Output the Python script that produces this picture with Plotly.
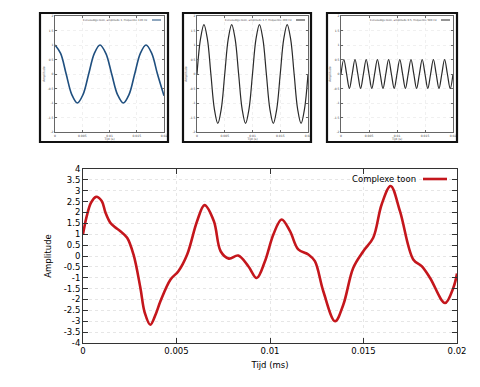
import plotly.graph_objects as go

# ---------------- data ----------------
# main complex tone
t_main = [0, 0.0002, 0.00043, 0.0007, 0.001, 0.0012, 0.00146, 0.0017, 0.002, 0.00236,
          0.0027, 0.00307, 0.0033, 0.0036, 0.0039, 0.00414, 0.00468, 0.0051, 0.00557,
          0.0061, 0.0065, 0.007, 0.00736, 0.0078, 0.0083, 0.00884, 0.00929, 0.00973,
          0.01018, 0.01062, 0.01107, 0.01151, 0.01205, 0.0124, 0.01285, 0.01348,
          0.01392, 0.01445, 0.01499, 0.01552, 0.01597, 0.01645, 0.01695, 0.01766,
          0.01811, 0.01856, 0.01936, 0.0198, 0.02]
amp_main = [1.0, 1.83, 2.45, 2.72, 2.53, 2.0, 1.53, 1.33, 1.14, 0.84,
            0.07, -1.47, -2.6, -3.16, -2.65, -2.08, -1.08, -0.7, 0.07,
            1.6, 2.34, 1.6, 0.22, -0.12, 0.02, -0.47, -1.01, -0.24,
            0.99, 1.68, 1.14, 0.3, 0.07, -0.24, -1.62, -3.0,
            -2.24, -0.55, 0.22, 0.84, 2.37, 3.22, 2.06, -0.16,
            -0.47, -1.01, -2.16, -1.47, -0.81]

# small plot 1 (amplitude 1)
t_s1 = [0, 0.00103, 0.00205, 0.00308, 0.0041, 0.00514, 0.00618, 0.00722, 0.00826,
        0.00933, 0.0104, 0.01147, 0.01254, 0.01358, 0.01462, 0.01566, 0.0167,
        0.01775, 0.0188, 0.02]
amp_s1 = [1, 0.71, 0, -0.71, -1, -0.71, 0, 0.71, 1,
          0.71, 0, -0.71, -1, -0.71, 0, 0.71, 1,
          0.71, 0, -0.75]

# small plot 2 (amplitude 1.7)
t_s2 = [0, 0.000625, 0.00125, 0.001875, 0.0025, 0.003125, 0.00375, 0.004375,
        0.005, 0.005625, 0.00625, 0.006875, 0.0075, 0.008125, 0.00875, 0.009375,
        0.01, 0.010625, 0.01125, 0.011875, 0.0125, 0.013125, 0.01375, 0.014375,
        0.015, 0.015625, 0.01625, 0.016875, 0.0175, 0.018125, 0.01875, 0.019375, 0.02]
amp_s2 = [0, 1.2, 1.7, 1.2, 0, -1.2, -1.7, -1.2,
          0, 1.2, 1.7, 1.2, 0, -1.2, -1.7, -1.2,
          0, 1.2, 1.7, 1.2, 0, -1.2, -1.7, -1.2,
          0, 1.2, 1.7, 1.2, 0, -1.2, -1.7, -1.2, 0]

# small plot 3 (amplitude 0.5)
t_s3 = [0, 0.0005, 0.001, 0.0015, 0.002, 0.0025, 0.003, 0.0035, 0.004, 0.0045,
        0.005, 0.0055, 0.006, 0.0065, 0.007, 0.0075, 0.008, 0.0085, 0.009, 0.0095,
        0.01, 0.0105, 0.011, 0.0115, 0.012, 0.0125, 0.013, 0.0135, 0.014, 0.0145,
        0.015, 0.0155, 0.016, 0.0165, 0.017, 0.0175, 0.018, 0.0185, 0.019, 0.0195, 0.02]
amp_s3 = [0, 0.5, 0, -0.5, 0, 0.5, 0, -0.5, 0, 0.5,
          0, -0.5, 0, 0.5, 0, -0.5, 0, 0.5, 0, -0.5,
          0, 0.5, 0, -0.5, 0, 0.5, 0, -0.5, 0, 0.5,
          0, -0.5, 0, 0.5, 0, -0.5, 0, 0.5, 0, -0.5, 0]

main_yticks = [4, 3.5, 3, 2.5, 2, 1.5, 1, 0.5, 0, -0.5, -1, -1.5, -2, -2.5, -3, -3.5, -4]
main_yticktext = ["4", "3.5", "3", "2.5", "2", "1.5", "1", "0.5", "0", "-0.5", "-1",
                  "-1.5", "-2", "-2.5", "-3", "-3.5", "-4"]
main_xticks = [0, 0.005, 0.01, 0.015, 0.02]
main_xticktext = ["0", "0.005", "0.01", "0.015", "0.02"]
small_yticks = [2, 1.5, 1, 0.5, 0, -0.5, -1, -1.5, -2]
small_yticktext = ["2", "1.5", "1", "0.5", "0", "-0.5", "-1", "-1.5", "-2"]
small_titles = ["Eenvoudige toon, amplitude 1, frequentie 120 Hz",
                "Eenvoudige toon, amplitude 1.7, frequentie 200 Hz",
                "Eenvoudige toon, amplitude 0.5, frequentie 500 Hz"]
legend_main = "Complexe toon"

# page body has an 8px margin; figure is sized to fit inside the 480x387 window
OFF = 8
W, H = 480 - OFF, 387 - OFF
def px(x):
    return (x - OFF) / W
def py(y):
    return 1 - (y - OFF) / H

FONT = "DejaVu Sans"
fig = go.Figure()

fig.add_trace(go.Scatter(x=t_main, y=amp_main, mode="lines", line_shape="spline",
                         line=dict(color="#c4161c", width=2.6), showlegend=False,
                         xaxis="x", yaxis="y"))
small_sets = [(t_s1, amp_s1, "#1f4f7f", 1.6), (t_s2, amp_s2, "#2a2a2a", 1.2),
              (t_s3, amp_s3, "#2a2a2a", 1.2)]
for i, (tx, ay, col, w) in enumerate(small_sets):
    fig.add_trace(go.Scatter(x=tx, y=ay, mode="lines", line_shape="spline",
                             line=dict(color=col, width=w), showlegend=False,
                             xaxis="x%d" % (i + 2), yaxis="y%d" % (i + 2)))

layout = dict(
    width=W, height=H, margin=dict(l=0, r=0, t=0, b=0, autoexpand=False),
    paper_bgcolor="white", plot_bgcolor="white", showlegend=False,
    font=dict(family=FONT, color="#000000", size=8),
    xaxis=dict(domain=[px(83), px(457)], range=[0, 0.02], tickvals=main_xticks,
               ticktext=main_xticktext, ticks="inside", ticklen=5, tickcolor="#333",
               showline=True, linecolor="#333", linewidth=1, mirror="ticks",
               showgrid=True, gridcolor="#e6e6e6", griddash="dot", zeroline=False,
               automargin=False,
               tickfont=dict(size=8.5, color="#000"),
               title=dict(text="Tijd (ms)", font=dict(size=8.5, color="#000"), standoff=6),
               anchor="y"),
    yaxis=dict(domain=[py(343), py(169)], range=[-4, 4], tickvals=main_yticks,
               ticktext=main_yticktext, ticks="inside", ticklen=5, tickcolor="#333",
               showline=True, linecolor="#333", linewidth=1, mirror="ticks",
               showgrid=True, gridcolor="#e6e6e6", griddash="dot", zeroline=False,
               automargin=False,
               tickfont=dict(size=8.5, color="#000"),
               title=dict(text="Amplitude", font=dict(size=8.5, color="#000"), standoff=10),
               anchor="x"),
)

small_x = [(55, 164), (197, 308), (341, 453)]
outer_x = [(40, 168), (183, 311), (327, 457)]
shapes = []
annotations = []
for i in range(3):
    n = i + 2
    layout["xaxis%d" % n] = dict(
        domain=[px(small_x[i][0]), px(small_x[i][1])], range=[0, 0.02],
        tickvals=main_xticks, ticktext=main_xticktext, ticks="inside", ticklen=2,
        tickcolor="#666", showline=True, linecolor="#666", linewidth=0.8, mirror="ticks",
        showgrid=True, gridcolor="#f0f0f0", griddash="dot", zeroline=False,
        automargin=False,
        tickfont=dict(size=3, color="#444"),
        title=dict(text="Tijd (s)", font=dict(size=3, color="#444"), standoff=1),
        anchor="y%d" % n)
    layout["yaxis%d" % n] = dict(
        domain=[py(132), py(16)], range=[-2, 2], tickvals=small_yticks,
        ticktext=small_yticktext, ticks="inside", ticklen=2, tickcolor="#666",
        showline=True, linecolor="#666", linewidth=0.8, mirror="ticks",
        showgrid=True, gridcolor="#f0f0f0", griddash="dot", zeroline=False,
        automargin=False,
        tickfont=dict(size=3, color="#444"),
        title=dict(text="Amplitude", font=dict(size=3, color="#444"), standoff=2),
        anchor="x%d" % n)
    # outer frame of each small picture
    shapes.append(dict(type="rect", xref="paper", yref="paper",
                       x0=px(outer_x[i][0]), x1=px(outer_x[i][1]), y0=py(142), y1=py(13),
                       line=dict(color="#111", width=2.2)))
    # small legend
    lx1 = small_x[i][1] - 3
    shapes.append(dict(type="line", xref="paper", yref="paper",
                       x0=px(lx1 - 9), x1=px(lx1), y0=py(20), y1=py(20),
                       line=dict(color=small_sets[i][2], width=1)))
    annotations.append(dict(text=small_titles[i], xref="paper", yref="paper",
                            x=px(lx1 - 11), y=py(20), xanchor="right", yanchor="middle",
                            showarrow=False, font=dict(size=2.6, color="#444")))

# main legend (text left, line sample right)
annotations.append(dict(text=legend_main, xref="paper", yref="paper", x=px(418), y=py(179),
                        xanchor="right", yanchor="middle", showarrow=False,
                        font=dict(size=8.5, color="#000")))
shapes.append(dict(type="line", xref="paper", yref="paper", x0=px(423), x1=px(447),
                   y0=py(179), y1=py(179), line=dict(color="#c4161c", width=2.6)))

layout["shapes"] = shapes
layout["annotations"] = annotations
fig.update_layout(**layout)
fig.write_html("out.html")
